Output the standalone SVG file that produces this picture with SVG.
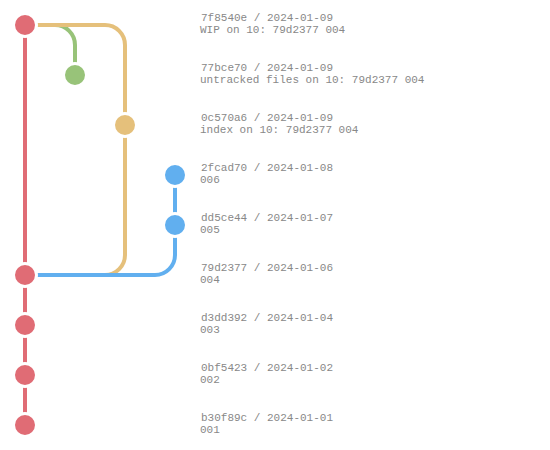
<svg xmlns="http://www.w3.org/2000/svg" width="550" height="450" viewBox="0 0 550 450">
<style>
.e{fill:none;stroke-width:4}
.n{stroke:#fff;stroke-width:3}
.t{font-family:"Liberation Mono","DejaVu Sans Mono",monospace;font-size:11px;fill:#888}
.red{stroke:#e06c75}.grn{stroke:#98c379}.yel{stroke:#e5c07b}.blu{stroke:#61afef}
</style>
<rect width="550" height="450" fill="#fff"/>
<g id="connectors">
<path class="e red" d="M25 25V425"/>
<path class="e grn" d="M25 25H55A20 20 0 0 1 75 45V75"/>
<path class="e yel" d="M25 25H105A20 20 0 0 1 125 45V255A20 20 0 0 1 105 275H25"/>
<path class="e blu" d="M25 275H155A20 20 0 0 0 175 255V175"/>
</g>
<g id="c7f8540e"><circle class="n" cx="25" cy="25" r="11.5" fill="#e06c75"/><text class="t" x="201" y="21">7f8540e / 2024-01-09</text><text class="t" x="200" y="33">WIP on 10: 79d2377 004</text></g>
<g id="c77bce70"><circle class="n" cx="75" cy="75" r="11.5" fill="#98c379"/><text class="t" x="201" y="71">77bce70 / 2024-01-09</text><text class="t" x="200" y="83">untracked files on 10: 79d2377 004</text></g>
<g id="c0c570a6"><circle class="n" cx="125" cy="125" r="11.5" fill="#e5c07b"/><text class="t" x="201" y="121">0c570a6 / 2024-01-09</text><text class="t" x="200" y="133">index on 10: 79d2377 004</text></g>
<g id="c2fcad70"><circle class="n" cx="175" cy="175" r="11.5" fill="#61afef"/><text class="t" x="201" y="171">2fcad70 / 2024-01-08</text><text class="t" x="200" y="183">006</text></g>
<g id="cdd5ce44"><circle class="n" cx="175" cy="225" r="11.5" fill="#61afef"/><text class="t" x="201" y="221">dd5ce44 / 2024-01-07</text><text class="t" x="200" y="233">005</text></g>
<g id="c79d2377"><circle class="n" cx="25" cy="275" r="11.5" fill="#e06c75"/><text class="t" x="201" y="271">79d2377 / 2024-01-06</text><text class="t" x="200" y="283">004</text></g>
<g id="cd3dd392"><circle class="n" cx="25" cy="325" r="11.5" fill="#e06c75"/><text class="t" x="201" y="321">d3dd392 / 2024-01-04</text><text class="t" x="200" y="333">003</text></g>
<g id="c0bf5423"><circle class="n" cx="25" cy="375" r="11.5" fill="#e06c75"/><text class="t" x="201" y="371">0bf5423 / 2024-01-02</text><text class="t" x="200" y="383">002</text></g>
<g id="cb30f89c"><circle class="n" cx="25" cy="425" r="11.5" fill="#e06c75"/><text class="t" x="201" y="421">b30f89c / 2024-01-01</text><text class="t" x="200" y="433">001</text></g>
</svg>
